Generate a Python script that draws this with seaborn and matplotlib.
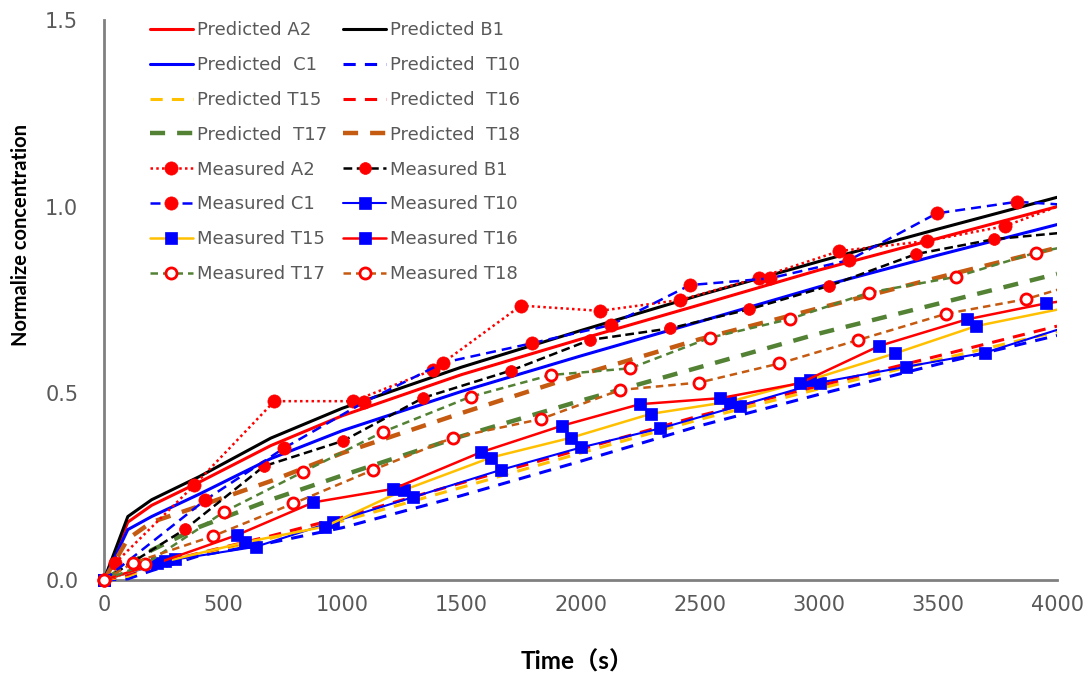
import numpy as np
import pandas as pd
import matplotlib
matplotlib.use("Agg")
import matplotlib.pyplot as plt
import seaborn as sns
from matplotlib.transforms import Bbox, TransformedBbox
from matplotlib.ticker import MultipleLocator, FormatStrFormatter

# ---------------- data ----------------
t_pred = [0, 100, 200, 400, 700, 1000, 1500, 2000, 2500, 3000, 3500, 4000]
pred_A2 = [0, 0.155, 0.200, 0.262, 0.360, 0.440, 0.550, 0.645, 0.737, 0.830, 0.915, 1.000]
pred_B1 = [0, 0.170, 0.215, 0.277, 0.380, 0.460, 0.570, 0.668, 0.763, 0.853, 0.940, 1.025]
pred_C1 = [0, 0.135, 0.170, 0.230, 0.325, 0.400, 0.505, 0.600, 0.692, 0.785, 0.870, 0.952]
pred_T10 = [0, 0.003, 0.025, 0.065, 0.100, 0.140, 0.226, 0.318, 0.413, 0.497, 0.578, 0.655]
pred_T15 = [0, 0.010, 0.035, 0.070, 0.112, 0.158, 0.248, 0.340, 0.430, 0.512, 0.590, 0.665]
pred_T16 = [0, 0.015, 0.040, 0.072, 0.118, 0.168, 0.260, 0.350, 0.440, 0.520, 0.600, 0.680]
pred_T17 = [0, 0.040, 0.080, 0.142, 0.215, 0.280, 0.385, 0.480, 0.570, 0.660, 0.740, 0.820]
pred_T18 = [0, 0.110, 0.155, 0.198, 0.265, 0.340, 0.447, 0.550, 0.645, 0.728, 0.810, 0.890]

t_A2 = [46, 379, 715, 1046, 1382, 1750, 2082, 2418, 2750, 3086, 3453, 3782, 4115]
m_A2 = [0.045, 0.254, 0.479, 0.479, 0.563, 0.735, 0.721, 0.750, 0.810, 0.881, 0.908, 0.948, 1.027]
t_B1 = [0, 340, 672, 1005, 1340, 1708, 2040, 2376, 2708, 3044, 3408, 3737, 4070]
m_B1 = [0, 0.136, 0.305, 0.373, 0.488, 0.561, 0.643, 0.674, 0.725, 0.788, 0.873, 0.913, 0.933]
t_C1 = [0, 424, 755, 1091, 1424, 1795, 2127, 2460, 2795, 3128, 3495, 3831, 4165]
m_C1 = [0, 0.214, 0.353, 0.476, 0.582, 0.634, 0.683, 0.790, 0.808, 0.857, 0.982, 1.013, 1.000]
t_T10 = [0, 300, 637, 963, 1298, 1666, 2002, 2334, 2669, 3005, 3366, 3698, 4040]
m_T10 = [0, 0.055, 0.089, 0.156, 0.222, 0.295, 0.355, 0.406, 0.467, 0.529, 0.571, 0.609, 0.678]
t_T15 = [0, 257, 592, 927, 1259, 1624, 1960, 2295, 2628, 2963, 3320, 3660, 4030]
m_T15 = [0, 0.050, 0.101, 0.143, 0.241, 0.328, 0.381, 0.445, 0.478, 0.536, 0.607, 0.680, 0.728]
t_T16 = [0, 222, 557, 879, 1214, 1581, 1921, 2250, 2586, 2921, 3254, 3621, 3954, 4290]
m_T16 = [0, 0.045, 0.120, 0.208, 0.244, 0.342, 0.413, 0.471, 0.487, 0.527, 0.627, 0.698, 0.741, 0.770]
t_T17 = [0, 172, 505, 837, 1172, 1539, 1875, 2208, 2544, 2879, 3212, 3576, 3912, 4245]
m_T17 = [0, 0.042, 0.183, 0.290, 0.397, 0.491, 0.549, 0.567, 0.649, 0.699, 0.770, 0.812, 0.877, 0.920]
t_T18 = [0, 123, 459, 795, 1130, 1463, 1833, 2166, 2499, 2835, 3166, 3534, 3868, 4200]
m_T18 = [0, 0.046, 0.118, 0.205, 0.295, 0.381, 0.431, 0.509, 0.529, 0.580, 0.643, 0.713, 0.752, 0.815]

# ---------------- style ----------------
sns.set_theme(style="white")
plt.rcParams["font.family"] = ["DejaVu Sans", "Noto Sans CJK SC"]

RED, BLUE, BLACK = "#FF0000", "#0000FF", "#000000"
YEL, GRN, BRN = "#FFC000", "#548235", "#C55A11"
GRAY = "#808080"
TXT = "#595959"

fig = plt.figure(figsize=(10.91, 6.73), dpi=100)
ax = fig.add_axes([104 / 1091, 1 - 580 / 673, 953 / 1091, 560 / 673])

series = [
    ("Predicted A2", t_pred, pred_A2, dict(color=RED, linewidth=2.2, linestyle="-")),
    ("Predicted B1", t_pred, pred_B1, dict(color=BLACK, linewidth=2.2, linestyle="-")),
    ("Predicted  C1", t_pred, pred_C1, dict(color=BLUE, linewidth=2.2, linestyle="-")),
    ("Predicted  T10", t_pred, pred_T10, dict(color=BLUE, linewidth=2.2, linestyle=(0, (4, 3)))),
    ("Predicted T15", t_pred, pred_T15, dict(color=YEL, linewidth=2.2, linestyle=(0, (4, 3)))),
    ("Predicted  T16", t_pred, pred_T16, dict(color=RED, linewidth=2.2, linestyle=(0, (4, 3)))),
    ("Predicted  T17", t_pred, pred_T17, dict(color=GRN, linewidth=3.2, linestyle=(0, (3.4, 2.7)))),
    ("Predicted  T18", t_pred, pred_T18, dict(color=BRN, linewidth=3.2, linestyle=(0, (3.4, 2.7)))),
    ("Measured A2", t_A2, m_A2, dict(color=RED, linewidth=1.8, linestyle=(0, (1, 1.3)),
                                      marker="o", markersize=9.5, markerfacecolor=RED,
                                      markeredgecolor=RED, markeredgewidth=0.5)),
    ("Measured B1", t_B1, m_B1, dict(color=BLACK, linewidth=1.8, linestyle=(0, (3.5, 1.8)),
                                      marker="o", markersize=8.5, markerfacecolor=RED,
                                      markeredgecolor=RED, markeredgewidth=0.5)),
    ("Measured C1", t_C1, m_C1, dict(color=BLUE, linewidth=1.8, linestyle=(0, (4, 2.4)),
                                      marker="o", markersize=9.5, markerfacecolor=RED,
                                      markeredgecolor=RED, markeredgewidth=0.5)),
    ("Measured T10", t_T10, m_T10, dict(color=BLUE, linewidth=1.5, linestyle="-",
                                         marker="s", markersize=9, markerfacecolor=BLUE,
                                         markeredgecolor=BLUE, markeredgewidth=0.5)),
    ("Measured T15", t_T15, m_T15, dict(color=YEL, linewidth=1.8, linestyle="-",
                                         marker="s", markersize=9, markerfacecolor=BLUE,
                                         markeredgecolor=BLUE, markeredgewidth=0.5)),
    ("Measured T16", t_T16, m_T16, dict(color=RED, linewidth=1.8, linestyle="-",
                                         marker="s", markersize=9, markerfacecolor=BLUE,
                                         markeredgecolor=BLUE, markeredgewidth=0.5)),
    ("Measured T17", t_T17, m_T17, dict(color=GRN, linewidth=1.8, linestyle=(0, (3, 2)),
                                         marker="o", markersize=8, markerfacecolor="white",
                                         markeredgecolor=RED, markeredgewidth=2.0)),
    ("Measured T18", t_T18, m_T18, dict(color=BRN, linewidth=1.8, linestyle=(0, (3, 2)),
                                         marker="o", markersize=8, markerfacecolor="white",
                                         markeredgecolor=RED, markeredgewidth=2.0)),
]

ax.set_xlim(0, 4000)
ax.set_ylim(0, 1.5)

for label, xs, ys, kw in series:
    sns.lineplot(x=np.asarray(xs, float), y=np.asarray(ys, float), ax=ax, label=label,
                 estimator=None, sort=False, legend=False, zorder=3, **kw)

# clip region: allow markers at the origin to overhang the axes, clip at x = 4000
clip = TransformedBbox(Bbox.from_extents(-300, -0.1, 4000, 1.6), ax.transData)
for ln in ax.lines:
    ln.set_clip_box(clip)
    ln.set_clip_path(None)

ax.set_xlim(0, 4000)
ax.set_ylim(0, 1.5)

# axes styling
for s in ["top", "right"]:
    ax.spines[s].set_visible(False)
for s in ["left", "bottom"]:
    ax.spines[s].set_color(GRAY)
    ax.spines[s].set_linewidth(2.0)

ax.xaxis.set_major_locator(MultipleLocator(500))
ax.xaxis.set_minor_locator(MultipleLocator(100))
ax.yaxis.set_major_locator(MultipleLocator(0.5))
ax.yaxis.set_minor_locator(MultipleLocator(0.1))
ax.yaxis.set_major_formatter(FormatStrFormatter("%.1f"))

ax.tick_params(axis="both", which="both", direction="out", color=GRAY, width=1.5,
               labelcolor=TXT, labelsize=15)
ax.tick_params(axis="x", which="major", length=6, pad=5)
ax.tick_params(axis="x", which="minor", length=4)
ax.tick_params(axis="y", which="major", length=4.5, pad=14)
ax.tick_params(axis="y", which="minor", length=4.5)
ax.grid(False)

ax.set_xlabel("Time（s）", family=["Lato", "Noto Sans CJK SC"], fontweight="bold",
              fontsize=17.5, color="black")
ax.set_ylabel("Normalize concentration", family=["Lato", "Noto Sans CJK SC"],
              fontweight="bold", fontsize=14.5, color="black")
ax.xaxis.set_label_coords(0.497, -0.125)
ax.yaxis.set_label_coords(-0.077, 0.616)

handles, labels = ax.get_legend_handles_labels()
order = [0, 2, 4, 6, 8, 10, 12, 14, 1, 3, 5, 7, 9, 11, 13, 15]
leg = ax.legend([handles[i] for i in order], [labels[i] for i in order],
                ncol=2, loc="upper left", bbox_to_anchor=(0.048, 0.9975),
                frameon=False, fontsize=13, labelcolor=TXT, handlelength=2.4,
                handletextpad=0.2, columnspacing=0.9, labelspacing=0.93,
                borderaxespad=0, borderpad=0, numpoints=1)

fig.savefig("out.png", dpi=100)
